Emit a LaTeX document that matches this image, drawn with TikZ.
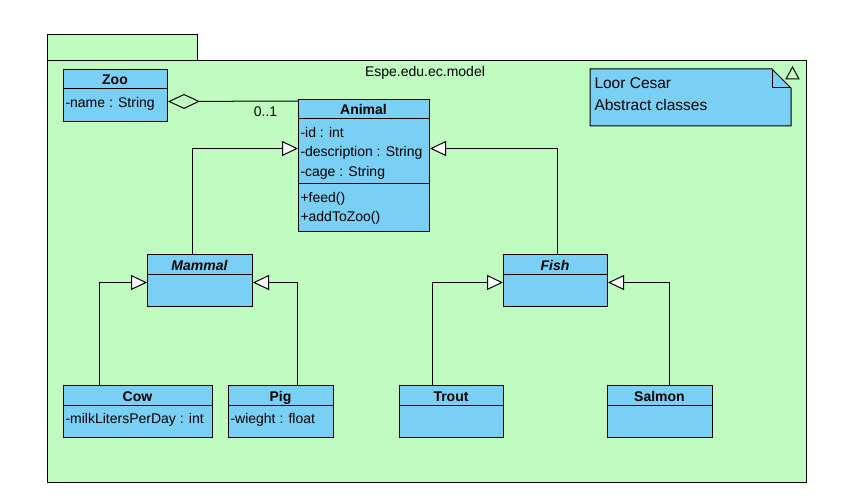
\documentclass[tikz,border=0pt]{standalone}
\usepackage{fontspec}
\setmainfont{Liberation Sans}
\usetikzlibrary{arrows.meta}
\definecolor{pkgc}{RGB}{192,252,192}
\definecolor{clsc}{RGB}{122,207,245}
\begin{document}
\begin{tikzpicture}[x=1pt,y=-1pt,line width=1pt,
  font=\fontsize{14}{17}\selectfont,
  pkgbox/.style={draw,fill=pkgc,anchor=north west,inner sep=0pt},
  classbox/.style={draw,fill=clsc,anchor=north west,inner sep=0pt},
  hdr/.style={anchor=base,inner sep=0pt,font=\fontsize{14}{17}\selectfont\bfseries},
  ihdr/.style={anchor=base,inner sep=0pt,font=\fontsize{14}{17}\selectfont\bfseries\itshape},
  attr/.style={anchor=base west,inner sep=0pt},
  gen/.style={-{Triangle[open,fill=white,length=16pt,width=15pt]}},
  agg/.style={-{Diamond[open,length=32pt,width=15pt]}}]
\useasboundingbox (0,0) rectangle (867,500);
% package
\node[pkgbox,minimum width=150pt,minimum height=26pt] (tab) at (47,34) {};
\node[pkgbox,minimum width=759pt,minimum height=422pt] (pkg) at (47,60) {};
\node[anchor=base,inner sep=0pt] (pkgname) at (425,77) {Espe.edu.ec.model};
% note
\draw[fill=clsc] (590,69) -- (772,69) -- (791,88) -- (791,126) -- (590,126) -- cycle;
\draw (772,69) -- (772,88) -- (791,88);
\draw (786,79) -- (792.5,67) -- (799,79) -- cycle;
\node[attr,font=\fontsize{15.5}{18}\selectfont] (n1) at (594,88.5) {Loor Cesar};
\node[attr,font=\fontsize{15.5}{18}\selectfont] (n2) at (594,110.5) {Abstract classes};
% Zoo
\node[classbox,minimum width=104pt,minimum height=52pt] (zoo) at (63,69) {};
\draw (63,89) -- (167,89);
\node[hdr] at (115,85) {Zoo};
\node[attr] at (65,108) {-name : String};
% Animal
\node[classbox,minimum width=131pt,minimum height=132pt] (animal) at (298,99) {};
\draw (298,119) -- (429,119);
\draw (298,183) -- (429,183);
\node[hdr] at (363.5,115) {Animal};
\node[attr] at (300,138) {-id : int};
\node[attr] at (300,157) {-description : String};
\node[attr] at (300,176) {-cage : String};
\node[attr] at (300,202) {+feed()};
\node[attr] at (300,221) {+addToZoo()};
% Mammal
\node[classbox,minimum width=105pt,minimum height=52pt] (mammal) at (147,254) {};
\draw (147,274) -- (252,274);
\node[ihdr] at (199.5,270) {Mammal};
% Fish
\node[classbox,minimum width=104pt,minimum height=52pt] (fish) at (503,254) {};
\draw (503,274) -- (607,274);
\node[ihdr] at (555,270) {Fish};
% Cow
\node[classbox,minimum width=149pt,minimum height=52pt] (cow) at (63,385) {};
\draw (63,405) -- (212,405);
\node[hdr] at (137.5,401) {Cow};
\node[attr] at (65,423) {-milkLitersPerDay : int};
% Pig
\node[classbox,minimum width=105pt,minimum height=52pt] (pig) at (228,385) {};
\draw (228,405) -- (333,405);
\node[hdr] at (280.5,401) {Pig};
\node[attr] at (230,423) {-wieght : float};
% Trout
\node[classbox,minimum width=104pt,minimum height=52pt] (trout) at (399,385) {};
\draw (399,405) -- (503,405);
\node[hdr] at (451,401) {Trout};
% Salmon
\node[classbox,minimum width=105pt,minimum height=52pt] (salmon) at (607,385) {};
\draw (607,405) -- (712,405);
\node[hdr] at (659.5,401) {Salmon};
% connectors
\draw[agg] ([yshift=-2pt]animal.north west) -- ([yshift=-6pt]zoo.east)
  node[pos=0.25,below=5pt,inner sep=0pt] {0..1};
\draw[gen] ([xshift=-7.5pt]mammal.north) |- ([yshift=17pt]animal.west);
\draw[gen] ([xshift=2pt]fish.north) |- ([yshift=17pt]animal.east);
\draw[gen] ([xshift=-38.5pt]cow.north) |- ([yshift=-2pt]mammal.west);
\draw[gen] ([xshift=16.5pt]pig.north) |- ([yshift=-2pt]mammal.east);
\draw[gen] ([xshift=-19pt]trout.north) |- ([yshift=-2pt]fish.west);
\draw[gen] ([xshift=9.5pt]salmon.north) |- ([yshift=-2pt]fish.east);
\end{tikzpicture}
\end{document}
